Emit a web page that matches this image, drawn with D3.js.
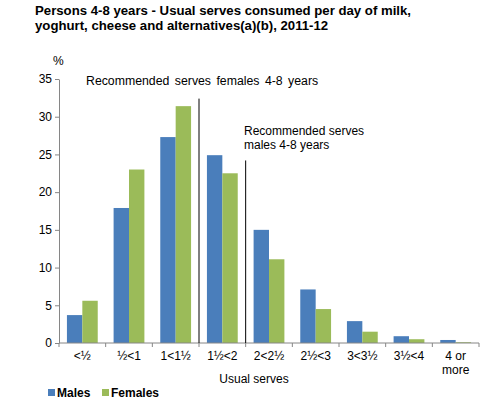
<!DOCTYPE html>
<html><head><meta charset="utf-8">
<script src="https://cdn.jsdelivr.net/npm/d3@7"></script>
<style>
body{margin:0;background:#fff;}
text{font-family:"Liberation Sans",Arial,sans-serif;fill:#000;}
</style></head>
<body><svg id="c" width="490" height="415"></svg>
<script>
const categories = ["<½","½<1","1<1½","1½<2","2<2½","2½<3","3<3½","3½<4","4 or more"];
const males   = [3.7,17.9,27.3,24.9,15.0,7.1,2.9,0.9,0.4];
const females = [5.6,23.0,31.4,22.5,11.1,4.5,1.5,0.5,0.1];
const yTicks = [0,5,10,15,20,25,30,35];
const seriesNames = ["Males","Females"];
const colors = ["#4a7ebb","#9bbb59"];

const svg = d3.select("#c");
const L=59,R=479,T=79,B=343;
const x = d3.scaleBand().domain(categories).range([L,R]).paddingInner(0.34).paddingOuter(0.17);
const xb = d3.scaleBand().domain(categories).range([L,R]);
const y = d3.scaleLinear().domain([0,35]).range([B,T]);
const xs = d3.scaleBand().domain(seriesNames).range([0,x.bandwidth()]);

// title
const title = svg.append("text").attr("x",35).attr("y",15).attr("font-size",13.2).attr("font-weight","bold");
title.append("tspan").attr("x",35).attr("y",15).text("Persons 4-8 years - Usual serves consumed per day of milk,");
title.append("tspan").attr("x",35).attr("y",30).text("yoghurt, cheese and alternatives(a)(b), 2011-12");

svg.append("text").attr("x",53).attr("y",65).attr("font-size",12).text("%");

// y axis
const yAxis = svg.append("g").attr("transform",`translate(${L},0)`)
  .call(d3.axisLeft(y).tickValues(yTicks).tickSize(4).tickSizeOuter(0).tickPadding(3));
yAxis.select(".domain").attr("stroke","#868686");
yAxis.selectAll(".tick line").attr("stroke","#868686");
yAxis.selectAll("text").attr("font-size",12).style("font-family","Liberation Sans, Arial, sans-serif").attr("fill","#000");

// bars
const data = [males, females];
data.forEach((vals,si)=>{
  svg.append("g").selectAll("rect").data(vals).join("rect")
    .attr("x",(d,i)=>x(categories[i])+xs(seriesNames[si]))
    .attr("y",d=>y(d))
    .attr("width",xs.bandwidth())
    .attr("height",d=>B-y(d))
    .attr("fill",colors[si]);
});

// x axis
const xg = svg.append("g").attr("transform",`translate(0,${B})`);
xg.append("line").attr("x1",L).attr("x2",R).attr("y1",0).attr("y2",0).attr("stroke","#868686");
const bounds = categories.map(c=>xb(c)).concat([R]);
xg.selectAll("line.t").data(bounds).join("line").attr("class","t")
  .attr("x1",d=>d).attr("x2",d=>d).attr("y1",0).attr("y2",4).attr("stroke","#868686");
categories.forEach(c=>{
  const cx = xb(c)+xb.bandwidth()/2;
  const t = xg.append("text").attr("text-anchor","middle").attr("font-size",12);
  if(c==="4 or more"){
    t.append("tspan").attr("x",cx).attr("y",17).text("4 or");
    t.append("tspan").attr("x",cx).attr("y",31).text("more");
  } else {
    t.attr("x",cx).attr("y",17).text(c);
  }
});
svg.append("text").attr("x",254).attr("y",383).attr("text-anchor","middle").attr("font-size",12).text("Usual serves");

// recommendation lines
const fLine = xb("1½<2"), mLine = xb("2<2½");
svg.append("line").attr("x1",fLine).attr("x2",fLine).attr("y1",y(32.4)).attr("y2",B).attr("stroke","#000").attr("stroke-width",1);
svg.append("line").attr("x1",mLine).attr("x2",mLine).attr("y1",y(24.2)).attr("y2",B).attr("stroke","#000").attr("stroke-width",1);
svg.append("text").attr("x",86).attr("y",85).attr("font-size",12.3).attr("word-spacing",2).text("Recommended serves females 4-8 years");
const mt = svg.append("text").attr("font-size",12);
mt.append("tspan").attr("x",244).attr("y",135).text("Recommended serves");
mt.append("tspan").attr("x",244).attr("y",149).text("males 4-8 years");

// legend
const lg = svg.append("g");
[["Males",48],["Females",102]].forEach(([n,lx],i)=>{
  lg.append("rect").attr("x",lx).attr("y",389).attr("width",7).attr("height",7).attr("fill",colors[i]);
  lg.append("text").attr("x",lx+9).attr("y",396.5).attr("font-size",12).attr("font-weight","bold").text(n);
});
</script></body></html>
